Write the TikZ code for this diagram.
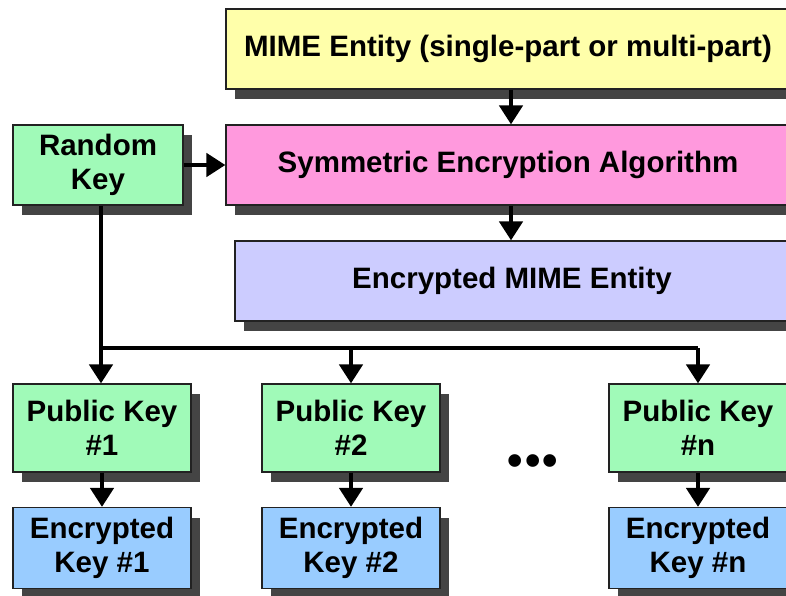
\documentclass[tikz,border=0pt]{standalone}
\usepackage{fontspec}
\setmainfont{Liberation Sans}
\usetikzlibrary{arrows.meta,shadows}

\definecolor{entyellow}{RGB}{255,255,170}
\definecolor{algpink}{RGB}{255,153,221}
\definecolor{encviolet}{RGB}{204,204,255}
\definecolor{keygreen}{RGB}{160,250,184}
\definecolor{keyblue}{RGB}{153,204,255}
\definecolor{shadowgray}{RGB}{68,68,68}
\definecolor{edgegray}{RGB}{34,34,34}

\tikzset{
  box/.style={rectangle, draw=edgegray, line width=1.2pt, align=center,
    inner sep=0pt, font=\fontsize{29.5}{34}\selectfont\bfseries,
    drop shadow={shadow xshift=9pt, shadow yshift=-10pt, fill=shadowgray, opacity=1}},
  widebox/.style={box, minimum width=564pt, minimum height=80pt},
  keybox/.style={box, fill=keygreen, minimum width=178pt, minimum height=88pt},
  ekeybox/.style={box, fill=keyblue, minimum width=178pt, minimum height=81pt},
  flow/.style={line width=4.5pt, -{Triangle[width=23pt,length=19pt]}},
  bus/.style={line width=4.5pt}
}

\begin{document}
\begin{tikzpicture}[x=1pt, y=-1pt]
  \useasboundingbox (0,0) rectangle (786,595);
  \clip (0,0) rectangle (786,595);

  % message path
  \node[widebox, fill=entyellow] (mime) at (508,49) {MIME Entity (single-part or multi-part)};
  \node[widebox, fill=algpink] (sym) at (508,165) {Symmetric Encryption Algorithm};
  \node[box, fill=encviolet, minimum width=554pt, minimum height=80pt] (enc) at (512,281) {Encrypted MIME Entity};
  \node[box, fill=keygreen, minimum width=170pt, minimum height=80pt] (rand) at (98,165) {Random\\Key};

  % per-recipient keys
  \node[keybox] (pk1) at (102,428) {Public Key\\\#1};
  \node[keybox] (pk2) at (351,428) {Public Key\\\#2};
  \node[keybox] (pkn) at (698,428) {Public Key\\\#n};
  \node[ekeybox] (ek1) at (102,548) {Encrypted\\Key \#1};
  \node[ekeybox] (ek2) at (351,548) {Encrypted\\Key \#2};
  \node[ekeybox] (ekn) at (698,548) {Encrypted\\Key \#n};
  \node[font=\fontsize{44}{44}\selectfont\bfseries] (dots) at (533,465) {•\kern2pt•\kern2pt•};

  % connectors
  \draw[flow] (mime.south -| 511,0) -- (sym.north -| 511,0);
  \draw[flow] (sym.south -| 511,0) -- (enc.north -| 511,0);
  \draw[flow] (rand.east) -- (sym.west |- rand.east);

  \coordinate (j1) at (101,348);
  \coordinate (j2) at (351,348);
  \coordinate (jn) at (698,348);
  \draw[bus] (rand.south -| j1) -- (j1);
  \draw[bus] (j1) -- (jn);
  \draw[flow] (j1) -- (pk1.north -| j1);
  \draw[flow] (j2) -- (pk2.north);
  \draw[flow] (jn) -- (pkn.north);

  \draw[flow] (pk1.south) -- (ek1.north);
  \draw[flow] (pk2.south) -- (ek2.north);
  \draw[flow] (pkn.south) -- (ekn.north);
\end{tikzpicture}
\end{document}
